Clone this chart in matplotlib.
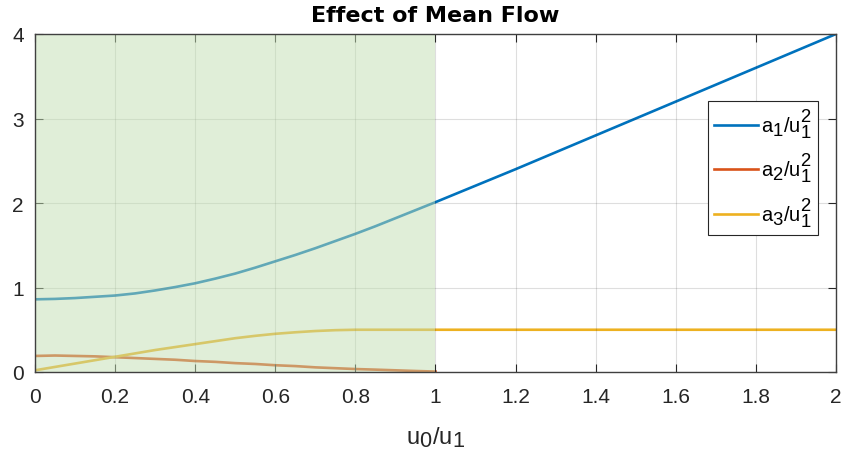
import numpy as np
import matplotlib
matplotlib.use("Agg")
import matplotlib.pyplot as plt
from matplotlib.patches import Rectangle
try:
    import matplotlib._mathtext as _mt
    _mt.SHRINK_FACTOR = 0.92
except Exception:
    pass

plt.rcParams['font.family'] = ['Liberation Sans', 'DejaVu Sans']
plt.rcParams['mathtext.default'] = 'regular'

# data
u_ratio = [0.0, 0.05, 0.1, 0.15, 0.2, 0.25, 0.3, 0.35, 0.4, 0.45, 0.5, 0.55, 0.6, 0.65,
           0.7, 0.75, 0.8, 0.85, 0.9, 0.95, 1.0, 1.2, 1.4, 1.6, 1.8, 2.0]
a1 = [0.86, 0.865, 0.875, 0.89, 0.905, 0.93, 0.965, 1.005, 1.05, 1.105, 1.165, 1.235, 1.31, 1.385,
      1.465, 1.55, 1.635, 1.725, 1.82, 1.915, 2.01, 2.4, 2.8, 3.2, 3.6, 4.0]
a2 = [0.19, 0.195, 0.19, 0.185, 0.175, 0.165, 0.155, 0.145, 0.13, 0.12, 0.105, 0.095, 0.08, 0.07,
      0.055, 0.045, 0.035, 0.028, 0.02, 0.012, 0.005, np.nan, np.nan, np.nan, np.nan, np.nan]
a3 = [0.02, 0.06, 0.10, 0.14, 0.18, 0.22, 0.26, 0.295, 0.33, 0.365, 0.40, 0.428, 0.452, 0.47,
      0.485, 0.495, 0.50, 0.50, 0.50, 0.50, 0.50, 0.50, 0.50, 0.50, 0.50, 0.50]
labels = [r'$a_1/u_1^2$', r'$a_2/u_1^2$', r'$a_3/u_1^2$']
colors = ['#0072BD', '#D95319', '#EDB120']
shade_range = (0.0, 1.0)
xticks = [0, 0.2, 0.4, 0.6, 0.8, 1, 1.2, 1.4, 1.6, 1.8, 2]
xticklabels = ['0', '0.2', '0.4', '0.6', '0.8', '1', '1.2', '1.4', '1.6', '1.8', '2']
yticks = [0, 1, 2, 3, 4]

fig = plt.figure(figsize=(8.44, 4.52), dpi=100)
ax = fig.add_axes([35/844, 1-373/452, 801/844, 338/452])

for y, lab, c in zip([a1, a2, a3], labels, colors):
    ax.plot(u_ratio, y, color=c, lw=1.9, label=lab, zorder=2)

ax.add_patch(Rectangle((shade_range[0], 0), shade_range[1]-shade_range[0], 4,
                       facecolor=(194/255, 222/255, 178/255), alpha=0.5, edgecolor='none', zorder=3))

ax.set_xlim(0, 2)
ax.set_ylim(0, 4)
ax.set_xticks(xticks)
ax.set_xticklabels(xticklabels)
ax.set_yticks(yticks)
ax.grid(True, color='#262626', alpha=0.15, lw=0.8, zorder=4)
ax.set_axisbelow(False)
ax.tick_params(direction='in', top=True, right=True, labelsize=15, colors='#262626',
               length=6, width=0.8)
ax.tick_params(axis='x', pad=11)
ax.tick_params(axis='y', pad=8)
for s in ax.spines.values():
    s.set_color('#404040')
    s.set_linewidth(1.0)
    s.set_zorder(5)

ax.set_xlabel(r'$u_0/u_1$', fontsize=17, color='#262626', labelpad=13)
ax.set_title('Effect of Mean Flow', fontsize=16, fontweight='bold', pad=9,
             family=['DejaVu Sans'])

leg = ax.legend(loc='upper right', bbox_to_anchor=(783/801, 1-(102-35)/338), fontsize=14.5,
                fancybox=False, edgecolor='#262626', framealpha=1,
                handlelength=2.2, handletextpad=0.15, borderpad=0.3, labelspacing=0.6,
                borderaxespad=0)
leg.get_frame().set_linewidth(0.8)
leg.set_zorder(10)

fig.savefig('out.png', dpi=100)
